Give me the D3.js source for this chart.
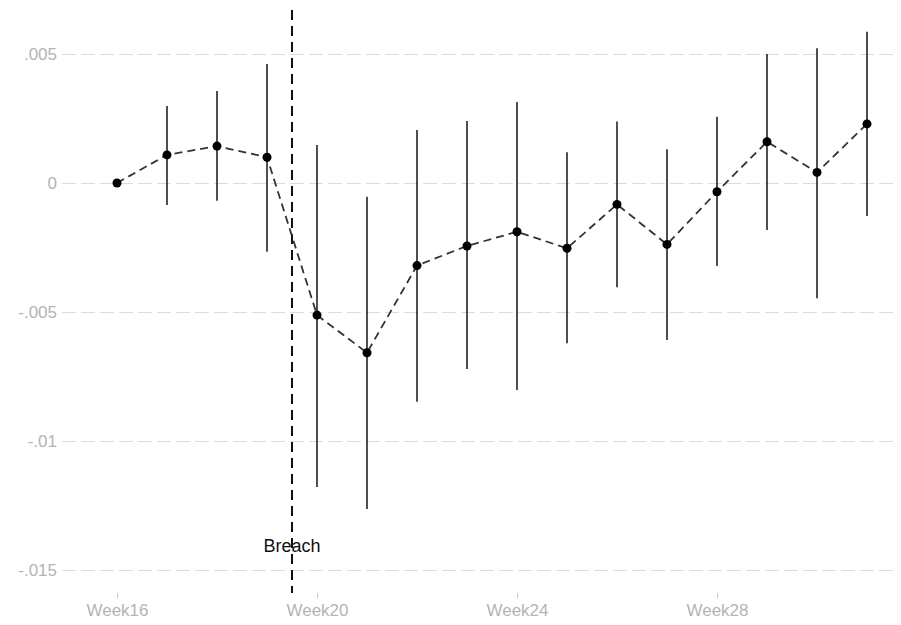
<!DOCTYPE html>
<html>
<head>
<meta charset="utf-8">
<script src="https://cdn.jsdelivr.net/npm/d3@7"></script>
<style>
  html, body { margin: 0; padding: 0; background: #fff; }
  svg { display: block; font-family: "Liberation Sans", Arial, sans-serif; }
</style>
</head>
<body>
<svg id="chart" width="901" height="625"></svg>
<script>
// Data
const weeks = [16, 17, 18, 19, 20, 21, 22, 23, 24, 25, 26, 27, 28, 29, 30, 31];
const estimate = [0, 0.00109, 0.00143, 0.00100, -0.00512, -0.00658, -0.00320, -0.00244, -0.00189, -0.00253, -0.00083, -0.00238, -0.00034, 0.00160, 0.00041, 0.00229];
const ciLow  = [null, -0.00085, -0.00069, -0.00266, -0.01178, -0.01264, -0.00848, -0.00721, -0.00802, -0.00621, -0.00404, -0.00609, -0.00322, -0.00182, -0.00447, -0.00128];
const ciHigh = [null, 0.00298, 0.00357, 0.00461, 0.00147, -0.00053, 0.00205, 0.00240, 0.00314, 0.00119, 0.00238, 0.00131, 0.00257, 0.00500, 0.00522, 0.00586];
const yTicks = [0.005, 0, -0.005, -0.01, -0.015];
const yTickLabels = [".005", "0", "-.005", "-.01", "-.015"];
const xTicks = [16, 20, 24, 28];
const xTickLabels = ["Week16", "Week20", "Week24", "Week28"];
const breachWeek = 19.5;
const breachLabel = "Breach";

const svg = d3.select("#chart");
const x = d3.scaleLinear().domain([16, 31]).range([117, 867]);
const y = d3.scaleLinear().domain([-0.015, 0.005]).range([570, 54]);
const panelLeft = 62, panelRight = 893, panelTop = 10, panelBottom = 593;

// grid lines
const yAxis = d3.axisLeft(y).tickValues(yTicks)
  .tickFormat((d, i) => yTickLabels[i])
  .tickSize(-(panelRight - panelLeft)).tickPadding(5);
const gy = svg.append("g").attr("transform", `translate(${panelLeft},0)`).call(yAxis);
gy.select(".domain").remove();
gy.selectAll(".tick line").attr("stroke", "#dcdcdc").attr("stroke-width", 1.2)
  .attr("stroke-dasharray", "14,5");
gy.selectAll(".tick text").attr("fill", "#b4b4b4").attr("font-size", 17)
  .attr("font-family", "Liberation Sans, Arial, sans-serif");

// x axis
const xAxis = d3.axisBottom(x).tickValues(xTicks)
  .tickFormat((d, i) => xTickLabels[i]).tickSize(5).tickPadding(6);
const gx = svg.append("g").attr("transform", `translate(0,${panelBottom})`).call(xAxis);
gx.select(".domain").remove();
gx.selectAll(".tick line").attr("stroke", "#c8c8c8");
gx.selectAll(".tick text").attr("fill", "#b4b4b4").attr("font-size", 17)
  .attr("font-family", "Liberation Sans, Arial, sans-serif");

// breach line
svg.append("line")
  .attr("x1", x(breachWeek)).attr("x2", x(breachWeek))
  .attr("y1", panelTop).attr("y2", panelBottom)
  .attr("stroke", "#111").attr("stroke-width", 2)
  .attr("stroke-dasharray", "10,6");

svg.append("text")
  .attr("x", x(breachWeek)).attr("y", 552)
  .attr("text-anchor", "middle")
  .attr("font-size", 18).attr("fill", "#111")
  .text(breachLabel);

// error bars
const rows = weeks.map((w, i) => ({ w, est: estimate[i], lo: ciLow[i], hi: ciHigh[i] }));
svg.append("g").selectAll("line").data(rows.filter(d => d.lo !== null)).join("line")
  .attr("x1", d => x(d.w)).attr("x2", d => x(d.w))
  .attr("y1", d => y(d.lo)).attr("y2", d => y(d.hi))
  .attr("stroke", "#222").attr("stroke-width", 1.6);

// connecting line
const line = d3.line().x(d => x(d.w)).y(d => y(d.est));
svg.append("path").datum(rows).attr("d", line)
  .attr("fill", "none").attr("stroke", "#333").attr("stroke-width", 1.8)
  .attr("stroke-dasharray", "8,5");

// points
svg.append("g").selectAll("circle").data(rows).join("circle")
  .attr("cx", d => x(d.w)).attr("cy", d => y(d.est)).attr("r", 4.5)
  .attr("fill", "#000");
</script>
</body>
</html>
